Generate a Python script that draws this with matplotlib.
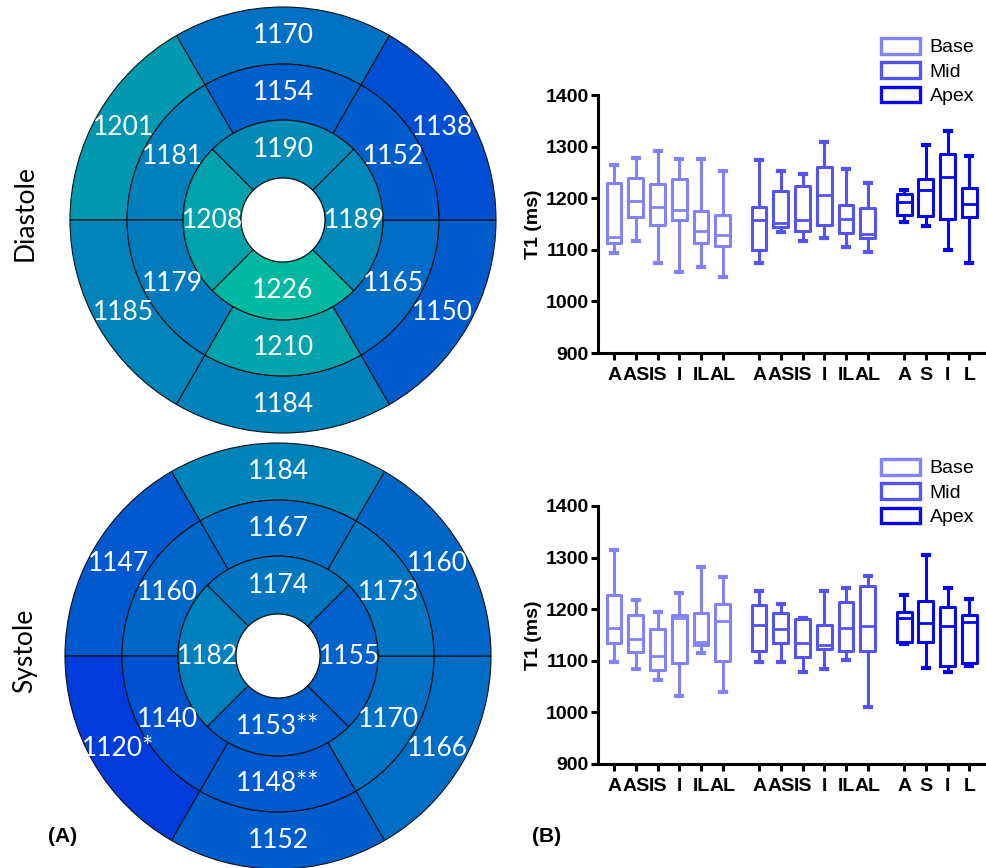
import matplotlib
matplotlib.use('Agg')
import matplotlib.pyplot as plt
from matplotlib.patches import Wedge, Circle, Patch
from matplotlib.colors import LinearSegmentedColormap, Normalize
import numpy as np

# ---------------- data ----------------
# Bullseye (AHA segments). Basal / mid order: anterior, anteroseptal, inferoseptal,
# inferior, inferolateral, anterolateral. Apical order: anterior, septal, inferior, lateral.
diastole_basal = [1170, 1201, 1185, 1184, 1150, 1138]
diastole_mid = [1154, 1181, 1179, 1210, 1165, 1152]
diastole_apical = [1190, 1208, 1226, 1189]
systole_basal = [1184, 1147, 1120, 1152, 1166, 1160]
systole_mid = [1167, 1160, 1140, 1148, 1170, 1173]
systole_apical = [1174, 1182, 1153, 1155]
systole_basal_marks = ['', '', '*', '', '', '']
systole_mid_marks = ['', '', '', '**', '', '']
systole_apical_marks = ['', '', '**', '']

# Box plots: (whisker low, q1, median, q3, whisker high)
base_labels = ['A', 'AS', 'IS', 'I', 'IL', 'AL']
mid_labels = ['A', 'AS', 'IS', 'I', 'IL', 'AL']
apex_labels = ['A', 'S', 'I', 'L']
diastole_base_box = [(1094, 1114, 1125, 1229, 1264), (1118, 1163, 1195, 1240, 1277),
                     (1074, 1148, 1183, 1228, 1292), (1057, 1157, 1177, 1237, 1276),
                     (1066, 1114, 1136, 1175, 1276), (1047, 1108, 1128, 1167, 1252)]
diastole_mid_box = [(1074, 1099, 1157, 1183, 1274), (1134, 1144, 1152, 1213, 1252),
                    (1118, 1137, 1158, 1223, 1247), (1123, 1149, 1206, 1261, 1308),
                    (1106, 1132, 1160, 1186, 1257), (1095, 1123, 1131, 1181, 1230)]
diastole_apex_box = [(1154, 1168, 1192, 1208, 1216), (1146, 1166, 1215, 1237, 1304),
                     (1099, 1160, 1241, 1286, 1330), (1075, 1163, 1189, 1219, 1281)]
systole_base_box = [(1098, 1135, 1163, 1228, 1314), (1084, 1117, 1143, 1188, 1217),
                    (1063, 1082, 1110, 1161, 1194), (1032, 1096, 1182, 1188, 1232),
                    (1115, 1130, 1137, 1192, 1282), (1040, 1099, 1177, 1210, 1263)]
systole_mid_box = [(1098, 1119, 1170, 1208, 1235), (1098, 1134, 1161, 1192, 1210),
                   (1079, 1108, 1135, 1181, 1182), (1085, 1123, 1130, 1170, 1235),
                   (1101, 1119, 1164, 1213, 1241), (1011, 1119, 1167, 1245, 1265)]
systole_apex_box = [(1132, 1137, 1182, 1195, 1228), (1086, 1137, 1174, 1216, 1305),
                    (1079, 1090, 1167, 1205, 1242), (1090, 1096, 1175, 1188, 1219)]
legend_labels = ['Base', 'Mid', 'Apex']

# ---------------- style ----------------
W, H = 986, 868
fig = plt.figure(figsize=(W / 100, H / 100), dpi=100)
fig.patch.set_facecolor('white')

BE_FONT = ['Lato', 'DejaVu Sans']
AX_FONT = ['Liberation Sans', 'DejaVu Sans']
cmap = LinearSegmentedColormap.from_list('bt', [(0.0, (0/255, 55/255, 222/255)),
                                               (0.5, (0/255, 116/255, 194/255)),
                                               (1.0, (0/255, 190/255, 158/255))])
norm = Normalize(1115, 1230)
R = [1.0, 0.732, 0.469, 0.197]
six_centers = [90, 150, 210, 270, 330, 30]
four_centers = [90, 180, 270, 0]


def px_axes(cx, cy, half):
    return fig.add_axes([(cx - half) / W, 1 - (cy + half) / H, 2 * half / W, 2 * half / H])


def bullseye(cx, cy, basal, mid, apical, mb, mm, ma):
    half = 230
    ax = px_axes(cx, cy, half)
    lim = half / 213
    ax.set_xlim(-lim, lim)
    ax.set_ylim(-lim, lim)
    ax.axis('off')
    rings = [(R[0], R[1], basal, six_centers, 60, mb),
             (R[1], R[2], mid, six_centers, 60, mm),
             (R[2], R[3], apical, four_centers, 90, ma)]
    for ro, ri, vals, cents, span, marks in rings:
        for v, c, mk in zip(vals, cents, marks):
            ax.add_patch(Wedge((0, 0), ro, c - span / 2, c + span / 2, width=ro - ri,
                               facecolor=cmap(norm(v)), edgecolor='#111111', lw=0.8))
            rm = (ro + ri) / 2
            ax.text(rm * np.cos(np.radians(c)), rm * np.sin(np.radians(c)), f'{v}{mk}',
                    ha='center', va='center', color='white', fontsize=19, family=BE_FONT)
    ax.add_patch(Circle((0, 0), R[3], facecolor='white', edgecolor='#111111', lw=0.8))
    return ax


bullseye(283, 220, diastole_basal, diastole_mid, diastole_apical, [''] * 6, [''] * 6, [''] * 4)
bullseye(278, 656, systole_basal, systole_mid, systole_apical,
         systole_basal_marks, systole_mid_marks, systole_apical_marks)

fig.text(25 / W, 1 - 213 / H, 'Diastole', rotation=90, ha='center', va='center',
         fontsize=19, family=BE_FONT)
fig.text(25 / W, 1 - 651 / H, 'Systole', rotation=90, ha='center', va='center',
         fontsize=19, family=BE_FONT)
fig.text(63 / W, 1 - 836 / H, '(A)', ha='center', va='center', fontsize=15,
         fontweight='bold', family=AX_FONT)
fig.text(547 / W, 1 - 836 / H, '(B)', ha='center', va='center', fontsize=15,
         fontweight='bold', family=AX_FONT)

colors = ['#8282FA', '#5454F2', '#0808EC']
gap = 1.67
pos_base = np.arange(len(base_labels), dtype=float)
pos_mid = pos_base[-1] + gap + np.arange(len(mid_labels))
pos_apex = pos_mid[-1] + gap + np.arange(len(apex_labels))


def stats(boxes):
    return [dict(whislo=b[0], q1=b[1], med=b[2], q3=b[3], whishi=b[4], fliers=[]) for b in boxes]


def box_panel(top_px, bot_px, groups, legend_y):
    ax = fig.add_axes([598 / W, 1 - bot_px / H, (985 - 598) / W, (bot_px - top_px) / H])
    handles = []
    for (boxes, pos), c, lab in zip(groups, colors, legend_labels):
        ax.bxp(stats(boxes), positions=pos, widths=0.68, showfliers=False, manage_ticks=False,
               boxprops=dict(color=c, lw=2.2), whiskerprops=dict(color=c, lw=2.2),
               capprops=dict(color=c, lw=3.0), medianprops=dict(color=c, lw=2.0),
               capwidths=0.28)
        handles.append(Patch(facecolor='white', edgecolor=c, lw=2.4, label=lab))
    ax.set_xlim(-0.74, 17.06)
    ax.set_ylim(900, 1400)
    ax.set_yticks(np.arange(900, 1401, 100))
    allpos = np.concatenate([pos_base, pos_mid, pos_apex])
    ax.set_xticks(allpos)
    ax.set_xticklabels(base_labels + mid_labels + apex_labels)
    for lbl in ax.get_xticklabels() + ax.get_yticklabels():
        lbl.set_fontweight('bold')
        lbl.set_fontsize(14)
        lbl.set_family(AX_FONT)
    ax.spines['top'].set_visible(False)
    ax.spines['right'].set_visible(False)
    for s in ['left', 'bottom']:
        ax.spines[s].set_linewidth(2.2)
    ax.tick_params(axis='both', width=2.2, length=5)
    ax.tick_params(axis='x', pad=5)
    ax.tick_params(axis='y', pad=1.5)
    ax.set_ylabel('T1 (ms)', fontsize=14, fontweight='bold', family=AX_FONT, labelpad=3)
    fig.legend(handles=handles, loc='upper left', bbox_to_anchor=(881 / W, 1 - legend_y / H),
               frameon=False, borderpad=0, borderaxespad=0, handlelength=2.0,
               handleheight=0.85, handletextpad=0.5, labelspacing=0.3,
               prop=dict(family=AX_FONT, size=14))
    return ax


box_panel(95, 353, [(diastole_base_box, pos_base), (diastole_mid_box, pos_mid),
                    (diastole_apex_box, pos_apex)], 38)
box_panel(506, 764, [(systole_base_box, pos_base), (systole_mid_box, pos_mid),
                     (systole_apex_box, pos_apex)], 459)

fig.savefig('out.png', dpi=100)
